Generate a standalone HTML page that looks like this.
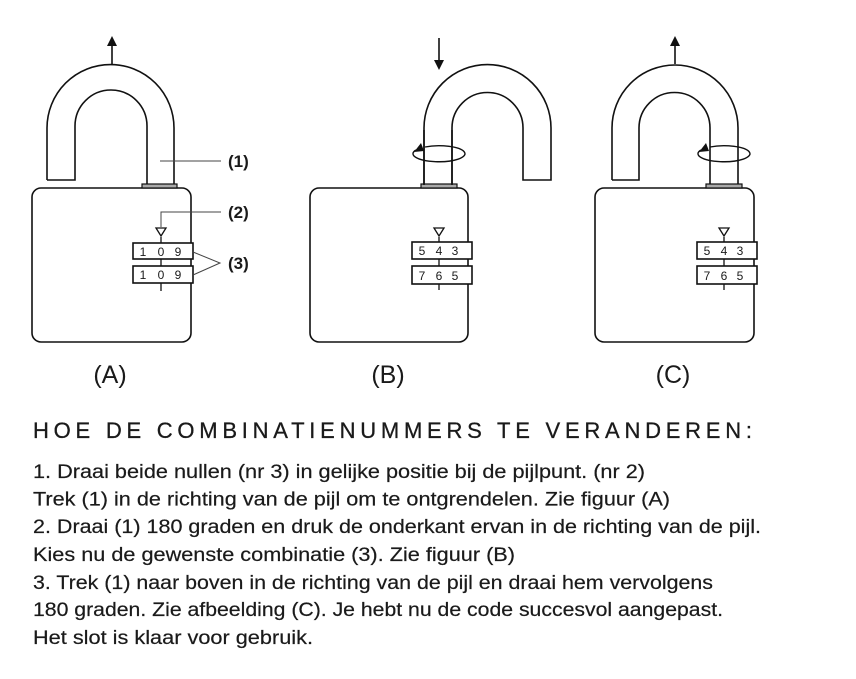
<!DOCTYPE html>
<html><head><meta charset="utf-8"><style>
html,body{margin:0;padding:0;background:#fff;}
svg{display:block;}
text{font-family:"Liberation Sans",sans-serif;fill:#1a1a1a;}
</style></head><body>
<svg width="856" height="679" viewBox="0 0 856 679" xmlns="http://www.w3.org/2000/svg">
<g fill="none" stroke="#111" stroke-width="1.6">
<!-- A -->
<path d="M47,180 L47,128 A63.5,63.5 0 0 1 174,128 L174,185"/>
<path d="M147,185 L147,126 A36,36 0 0 0 75,126 L75,180 L47,180"/>
<rect x="32" y="188" width="159" height="154" rx="9"/>
<rect x="142" y="184" width="35" height="4" fill="#aaa" stroke-width="1.2"/>
<line x1="112" y1="65" x2="112" y2="44"/>
<line x1="161" y1="237" x2="161" y2="291" stroke-width="1.3"/>
<rect x="133" y="243" width="60" height="16" fill="#fff"/>
<rect x="133" y="266" width="60" height="17" fill="#fff"/>
<path d="M156,228 L166,228 L161,236 Z" stroke-width="1.3"/>
<g stroke-width="1" stroke="#444">
<line x1="160" y1="161" x2="221" y2="161"/>
<path d="M221,212 L161,212 L161,227"/>
<path d="M193,252 L220,263 L193,275"/>
</g>
<!-- B -->
<path d="M424,185 L424,128 A63.5,63.5 0 0 1 551,128 L551,180 L523,180 L523,128 A35.5,35.5 0 0 0 452,128 L452,185"/>
<rect x="310" y="188" width="158" height="154" rx="9"/>
<rect x="421" y="184" width="36" height="4" fill="#aaa" stroke-width="1.2"/>
<line x1="439" y1="38" x2="439" y2="62"/>
<path d="M416,150 A26,8 0 1 0 425,147" stroke-width="1.4"/>
<line x1="424" y1="130" x2="424" y2="185"/>
<line x1="452" y1="130" x2="452" y2="185"/>
<line x1="439" y1="237" x2="439" y2="290" stroke-width="1.3"/>
<rect x="412" y="242" width="60" height="17" fill="#fff"/>
<rect x="412" y="266" width="60" height="18" fill="#fff"/>
<path d="M434,228 L444,228 L439,236 Z" stroke-width="1.3"/>
<!-- C -->
<path d="M612,180 L612,128 A63,63 0 0 1 738,128 L738,185"/>
<path d="M710,185 L710,128 A35.5,35.5 0 0 0 639,128 L639,180 L612,180"/>
<rect x="595" y="188" width="159" height="154" rx="9"/>
<rect x="706" y="184" width="36" height="4" fill="#aaa" stroke-width="1.2"/>
<line x1="675" y1="64" x2="675" y2="44"/>
<path d="M701,150 A26,8 0 1 0 710,147" stroke-width="1.4"/>
<line x1="724" y1="237" x2="724" y2="290" stroke-width="1.3"/>
<rect x="697" y="242" width="60" height="17" fill="#fff"/>
<rect x="697" y="266" width="60" height="18" fill="#fff"/>
<path d="M719,228 L729,228 L724,236 Z" stroke-width="1.3"/>
</g>
<!-- arrowheads -->
<path d="M107,46 L112,36 L117,46 Z" fill="#111"/>
<path d="M434,60 L439,70 L444,60 Z" fill="#111"/>
<path d="M670,46 L675,36 L680,46 Z" fill="#111"/>
<path d="M414,152 L421,143 L424,151 Z" fill="#111"/>
<path d="M699,152 L706,143 L709,151 Z" fill="#111"/>
<!-- dial digits -->
<g font-size="12">
<text x="143" y="256" text-anchor="middle">1</text><text x="161" y="256" text-anchor="middle">0</text><text x="178" y="256" text-anchor="middle">9</text>
<text x="143" y="279" text-anchor="middle">1</text><text x="161" y="279" text-anchor="middle">0</text><text x="178" y="279" text-anchor="middle">9</text>
<text x="422" y="255" text-anchor="middle">5</text><text x="439" y="255" text-anchor="middle">4</text><text x="455" y="255" text-anchor="middle">3</text>
<text x="422" y="280" text-anchor="middle">7</text><text x="439" y="280" text-anchor="middle">6</text><text x="455" y="280" text-anchor="middle">5</text>
<text x="707" y="255" text-anchor="middle">5</text><text x="724" y="255" text-anchor="middle">4</text><text x="740" y="255" text-anchor="middle">3</text>
<text x="707" y="280" text-anchor="middle">7</text><text x="724" y="280" text-anchor="middle">6</text><text x="740" y="280" text-anchor="middle">5</text>
</g>
<g font-size="17" font-weight="bold">
<text x="228" y="167">(1)</text>
<text x="228" y="218">(2)</text>
<text x="228" y="269">(3)</text>
</g>
<g font-size="25" text-anchor="middle">
<text x="110" y="383">(A)</text>
<text x="388" y="383">(B)</text>
<text x="673" y="383">(C)</text>
</g>
<text x="33" y="438" font-size="22" textLength="719" lengthAdjust="spacing" stroke="#1a1a1a" stroke-width="0.3">HOE DE COMBINATIENUMMERS TE VERANDEREN:</text>
<g font-size="19" stroke="#1a1a1a" stroke-width="0.2">
<text x="33" y="478" textLength="612" lengthAdjust="spacingAndGlyphs">1. Draai beide nullen (nr 3) in gelijke positie bij de pijlpunt. (nr 2)</text>
<text x="33" y="505.5" textLength="637" lengthAdjust="spacingAndGlyphs">Trek (1) in de richting van de pijl om te ontgrendelen. Zie figuur (A)</text>
<text x="33" y="533" textLength="728" lengthAdjust="spacingAndGlyphs">2. Draai (1) 180 graden en druk de onderkant ervan in de richting van de pijl.</text>
<text x="33" y="561" textLength="482" lengthAdjust="spacingAndGlyphs">Kies nu de gewenste combinatie (3). Zie figuur (B)</text>
<text x="33" y="589" textLength="680" lengthAdjust="spacingAndGlyphs">3. Trek (1) naar boven in de richting van de pijl en draai hem vervolgens</text>
<text x="33" y="616" textLength="690" lengthAdjust="spacingAndGlyphs">180 graden. Zie afbeelding (C). Je hebt nu de code succesvol aangepast.</text>
<text x="33" y="644" textLength="280" lengthAdjust="spacingAndGlyphs">Het slot is klaar voor gebruik.</text>
</g>
</svg>
</body></html>
